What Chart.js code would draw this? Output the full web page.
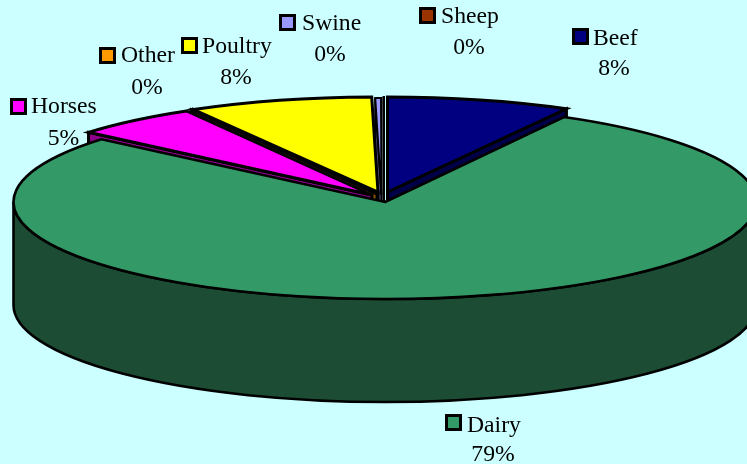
<!DOCTYPE html>
<html>
<head>
<meta charset="utf-8">
<style>
html,body{margin:0;padding:0;background:#ccffff;overflow:hidden}
canvas{display:block}
</style>
<script src="https://cdn.jsdelivr.net/npm/chart.js@4"></script>
</head>
<body>
<canvas id="c" width="747" height="464"></canvas>
<script>
const categories = ['Beef','Dairy','Horses','Other','Poultry','Swine','Sheep'];
const shares = [8.0,78.2,5.5,0.05,8.0,0.25,0.02];
const shareLabels = ['8%','79%','5%','0%','8%','0%','0%'];

const topColors = ['#000080','#339966','#ff00ff','#ff9900','#ffff00','#9999ff','#993300'];
const wallColors = ['#000048','#1c4c34','#8c008c','#8c5400','#808000','#55558c','#551c00'];
// exploded-slice shift relative to the pie centre, in pixels
const shifts = [[2.5,-10],[0,0],[-13,-7],[-8,-8],[-7,-10],[-3.5,-7],[-1,-8]];
const sliceRY = [95,97,97,97,95,97,97];
const sliceWidth = [3,2.6,3,3,3,2,2];
const paintOrder = [6,5,0,4,3,2,1];
const RX = 371.5, DEPTH = 103;
const FONT = '23.7px "Liberation Serif"';
// [marker x, marker y, name x, name baseline, share centre x, share baseline]
const labelLayout = [
  [572,28,593,45,614,75],
  [445,414,467,432,493,461],
  [10,98,31,113,63.5,145],
  [99,47,121,62,147,94],
  [181,37,202,53,236,84],
  [279,14,302,30,330,61],
  [419,7,441,23,469,54]
];

function drawSlice(ctx, arc, i, pass){
  const cx = arc.x + shifts[i][0], cy = arc.y + shifts[i][1], RY = sliceRY[i];
  const a0 = arc.startAngle, a1 = arc.endAngle;
  const px = a => cx + RX*Math.cos(a), py = a => cy + RY*Math.sin(a);
  ctx.lineJoin = 'miter'; ctx.miterLimit = 4; ctx.lineWidth = sliceWidth[i]; ctx.strokeStyle = '#000';
  if (pass === 'walls'){
    const mx = px((a0+a1)/2), my = py((a0+a1)/2);
    ctx.fillStyle = wallColors[i];
    [a0,a1].forEach(a=>{
      const qx = px(a), qy = py(a);
      let nx = -(qy-cy), ny = qx-cx;
      if (nx*(mx-cx)+ny*(my-cy) > 0){ nx=-nx; ny=-ny; }
      if (ny <= 0) return;
      ctx.beginPath();
      ctx.moveTo(cx,cy); ctx.lineTo(qx,qy); ctx.lineTo(qx,qy+DEPTH); ctx.lineTo(cx,cy+DEPTH);
      ctx.closePath(); ctx.fill(); ctx.stroke();
    });
    const s = Math.max(a0,0), e = Math.min(a1,Math.PI);
    if (e > s){
      ctx.beginPath();
      ctx.ellipse(cx,cy,RX,RY,0,s,e);
      ctx.lineTo(px(e),py(e)+DEPTH);
      ctx.ellipse(cx,cy+DEPTH,RX,RY,0,e,s,true);
      ctx.closePath(); ctx.fill(); ctx.stroke();
    }
  } else {
    ctx.beginPath();
    ctx.moveTo(cx,cy);
    ctx.ellipse(cx,cy,RX,RY,0,a0,a1);
    ctx.closePath();
    ctx.fillStyle = topColors[i];
    ctx.fill(); ctx.stroke();
  }
}

const pie3d = {
  id:'pie3d',
  beforeDatasetsDraw(chart){
    const ctx = chart.ctx, arcs = chart.getDatasetMeta(0).data;
    ctx.save();
    paintOrder.forEach(i=>{
      drawSlice(ctx, arcs[i], i, 'walls');
      drawSlice(ctx, arcs[i], i, 'top');
    });
    ctx.font = FONT; ctx.textBaseline = 'alphabetic'; ctx.fillStyle = '#000';
    categories.forEach((name,i)=>{
      const L = labelLayout[i];
      ctx.fillStyle = topColors[i];
      ctx.fillRect(L[0]+1.5,L[1]+1.5,14,14);
      ctx.strokeStyle = '#000'; ctx.lineWidth = 3; ctx.lineJoin='miter';
      ctx.strokeRect(L[0]+1.5,L[1]+1.5,14,14);
      ctx.fillStyle = '#000';
      ctx.textAlign = 'left';
      ctx.fillText(name,L[2],L[3]);
      ctx.textAlign = 'center';
      ctx.fillText(shareLabels[i],L[4],L[5]);
    });
    ctx.restore();
    return false;
  }
};

new Chart(document.getElementById('c'),{
  type:'pie',
  data:{labels:categories,datasets:[{data:shares,backgroundColor:topColors,borderWidth:0}]},
  options:{
    responsive:false,animation:false,devicePixelRatio:1,
    layout:{padding:{left:23,top:0,right:0,bottom:60}},
    plugins:{legend:{display:false},tooltip:{enabled:false}}
  },
  plugins:[pie3d]
});
</script>
</body>
</html>
